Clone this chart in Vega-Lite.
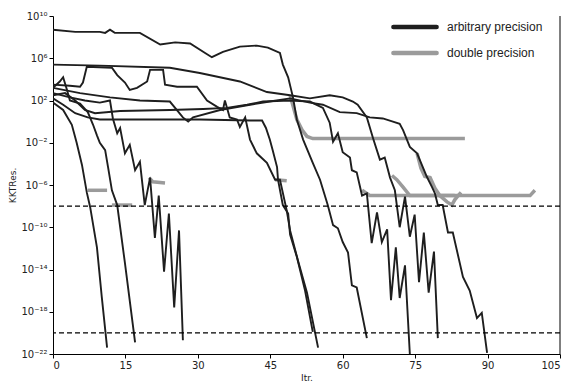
{
"$schema": "https://vega.github.io/schema/vega-lite/v6.json",
"width": 507, "height": 338,
"autosize": {"type": "none"},
"padding": {"left": 53, "top": 16, "right": 7, "bottom": 27},
"config": {
  "view": {"stroke": null},
  "axis": {"grid": false, "domainColor": "#000", "tickColor": "#000", "labelColor": "#222", "titleColor": "#222", "labelFont": "DejaVu Sans", "titleFont": "DejaVu Sans", "labelFontSize": 10, "titleFontSize": 9, "titleFontWeight": "normal", "tickSize": 4, "labelPadding": 2},
  "legend": {"orient": "none", "legendX": 346, "legendY": -5, "title": null, "symbolType": "M-1.6,0H1.6", "symbolSize": 729, "symbolStrokeWidth": 4.5, "labelFont": "Liberation Sans", "labelFontSize": 12, "labelColor": "#222", "rowPadding": 1, "labelOffset": 16, "padding": 0}
},
"datasets": {
"res": [
{"s":"S1","p":"arbitrary precision","x":0,"y":5.01e8},{"s":"S1","p":"arbitrary precision","x":4.6,"y":3.16e8},{"s":"S1","p":"arbitrary precision","x":9.7,"y":3.16e8},{"s":"S1","p":"arbitrary precision","x":10.8,"y":2.51e8},{"s":"S1","p":"arbitrary precision","x":11.8,"y":5.01e8},{"s":"S1","p":"arbitrary precision","x":12.8,"y":2.51e8},{"s":"S1","p":"arbitrary precision","x":18.0,"y":2.51e8},{"s":"S1","p":"arbitrary precision","x":22.2,"y":2e7},{"s":"S1","p":"arbitrary precision","x":25.3,"y":3.16e7},{"s":"S1","p":"arbitrary precision","x":28.4,"y":2.51e7},{"s":"S1","p":"arbitrary precision","x":31.5,"y":3.16e6},{"s":"S1","p":"arbitrary precision","x":32.9,"y":1.26e6},{"s":"S1","p":"arbitrary precision","x":35.2,"y":3.98e6},{"s":"S1","p":"arbitrary precision","x":38.7,"y":1.26e7},{"s":"S1","p":"arbitrary precision","x":42.2,"y":1.58e7},{"s":"S1","p":"arbitrary precision","x":44.5,"y":1e7},{"s":"S1","p":"arbitrary precision","x":47.0,"y":3.16e6},{"s":"S1","p":"arbitrary precision","x":47.6,"y":2.51e5},{"s":"S1","p":"arbitrary precision","x":48.7,"y":1.58e4},{"s":"S1","p":"arbitrary precision","x":49.7,"y":200},{"s":"S1","p":"arbitrary precision","x":50.5,"y":1.58},{"s":"S1","p":"arbitrary precision","x":51.8,"y":0.02},{"s":"S1","p":"arbitrary precision","x":53.8,"y":1.26e-4},{"s":"S1","p":"arbitrary precision","x":55.3,"y":3.16e-6},{"s":"S1","p":"arbitrary precision","x":56.9,"y":1.26e-8},{"s":"S1","p":"arbitrary precision","x":58.0,"y":1.58e-10},{"s":"S1","p":"arbitrary precision","x":59.0,"y":7.94e-11},{"s":"S1","p":"arbitrary precision","x":60.0,"y":3.98e-12},{"s":"S1","p":"arbitrary precision","x":61.1,"y":3.98e-13},{"s":"S1","p":"arbitrary precision","x":61.9,"y":3.16e-16},{"s":"S1","p":"arbitrary precision","x":62.9,"y":2e-16},{"s":"S1","p":"arbitrary precision","x":65.0,"y":3.16e-21},
{"s":"S2","p":"arbitrary precision","x":0,"y":2.51e5},{"s":"S2","p":"arbitrary precision","x":9.7,"y":2e5},{"s":"S2","p":"arbitrary precision","x":24.2,"y":1.26e5},{"s":"S2","p":"arbitrary precision","x":30.4,"y":3.98e4},{"s":"S2","p":"arbitrary precision","x":38.7,"y":6.31e3},{"s":"S2","p":"arbitrary precision","x":44.3,"y":631},{"s":"S2","p":"arbitrary precision","x":49.1,"y":316},{"s":"S2","p":"arbitrary precision","x":53.2,"y":158},{"s":"S2","p":"arbitrary precision","x":57.3,"y":316},{"s":"S2","p":"arbitrary precision","x":60.0,"y":200},{"s":"S2","p":"arbitrary precision","x":62.1,"y":79.4},{"s":"S2","p":"arbitrary precision","x":63.1,"y":39.8},{"s":"S2","p":"arbitrary precision","x":65.0,"y":2.51},{"s":"S2","p":"arbitrary precision","x":66.3,"y":2.51e-2},{"s":"S2","p":"arbitrary precision","x":67.7,"y":2.51e-4},{"s":"S2","p":"arbitrary precision","x":68.7,"y":3.98e-4},{"s":"S2","p":"arbitrary precision","x":69.8,"y":5.01e-6},{"s":"S2","p":"arbitrary precision","x":70.8,"y":3.16e-7},{"s":"S2","p":"arbitrary precision","x":71.8,"y":1e-10},{"s":"S2","p":"arbitrary precision","x":72.9,"y":7.94e-8},{"s":"S2","p":"arbitrary precision","x":73.9,"y":1.26e-11},{"s":"S2","p":"arbitrary precision","x":74.9,"y":1.58e-9},{"s":"S2","p":"arbitrary precision","x":75.8,"y":6.31e-16},{"s":"S2","p":"arbitrary precision","x":76.8,"y":3.16e-11},{"s":"S2","p":"arbitrary precision","x":77.8,"y":6.31e-17},{"s":"S2","p":"arbitrary precision","x":78.9,"y":5.01e-13},{"s":"S2","p":"arbitrary precision","x":79.7,"y":3.16e-21},
{"s":"M","p":"arbitrary precision","x":0,"y":316},{"s":"M","p":"arbitrary precision","x":2.5,"y":501},{"s":"M","p":"arbitrary precision","x":4.6,"y":100},{"s":"M","p":"arbitrary precision","x":6.6,"y":12.6},{"s":"M","p":"arbitrary precision","x":8.7,"y":6.31},{"s":"M","p":"arbitrary precision","x":13.9,"y":10},{"s":"M","p":"arbitrary precision","x":24.2,"y":12.6},{"s":"M","p":"arbitrary precision","x":31.1,"y":15.8},{"s":"M","p":"arbitrary precision","x":36.0,"y":20},{"s":"M","p":"arbitrary precision","x":40.2,"y":39.8},{"s":"M","p":"arbitrary precision","x":43.5,"y":79.4},{"s":"M","p":"arbitrary precision","x":49.1,"y":100},{"s":"M","p":"arbitrary precision","x":53.2,"y":79.4},{"s":"M","p":"arbitrary precision","x":55.9,"y":20},{"s":"M","p":"arbitrary precision","x":57.3,"y":0.794},{"s":"M","p":"arbitrary precision","x":58.0,"y":1.26e-2},{"s":"M","p":"arbitrary precision","x":59.0,"y":7.94e-2},{"s":"M","p":"arbitrary precision","x":60.0,"y":1.26e-3},{"s":"M","p":"arbitrary precision","x":61.5,"y":3.98e-4},{"s":"M","p":"arbitrary precision","x":61.9,"y":2.51e-5},{"s":"M","p":"arbitrary precision","x":62.9,"y":1.58e-5},{"s":"M","p":"arbitrary precision","x":64.0,"y":1e-7},{"s":"M","p":"arbitrary precision","x":65.0,"y":1.58e-7},{"s":"M","p":"arbitrary precision","x":66.0,"y":3.16e-12},{"s":"M","p":"arbitrary precision","x":67.1,"y":2.51e-9},{"s":"M","p":"arbitrary precision","x":68.1,"y":3.98e-12},{"s":"M","p":"arbitrary precision","x":69.2,"y":6.31e-11},{"s":"M","p":"arbitrary precision","x":70.0,"y":1.26e-17},{"s":"M","p":"arbitrary precision","x":71.0,"y":1.26e-12},{"s":"M","p":"arbitrary precision","x":71.8,"y":2e-17},{"s":"M","p":"arbitrary precision","x":72.9,"y":2.51e-14},{"s":"M","p":"arbitrary precision","x":73.9,"y":1e-22},
{"s":"U","p":"arbitrary precision","x":0,"y":1.58e3},{"s":"U","p":"arbitrary precision","x":5.6,"y":501},{"s":"U","p":"arbitrary precision","x":11.8,"y":200},{"s":"U","p":"arbitrary precision","x":18.0,"y":100},{"s":"U","p":"arbitrary precision","x":24.2,"y":79.4},{"s":"U","p":"arbitrary precision","x":26.9,"y":2.51},{"s":"U","p":"arbitrary precision","x":28.0,"y":1},{"s":"U","p":"arbitrary precision","x":29.0,"y":2.51},{"s":"U","p":"arbitrary precision","x":34.6,"y":12.6},{"s":"U","p":"arbitrary precision","x":40.8,"y":39.8},{"s":"U","p":"arbitrary precision","x":44.9,"y":79.4},{"s":"U","p":"arbitrary precision","x":49.1,"y":158},{"s":"U","p":"arbitrary precision","x":53.2,"y":63.1},{"s":"U","p":"arbitrary precision","x":55.9,"y":39.8},{"s":"U","p":"arbitrary precision","x":59.4,"y":7.94},{"s":"U","p":"arbitrary precision","x":62.9,"y":6.31},{"s":"U","p":"arbitrary precision","x":65.6,"y":2.51},{"s":"U","p":"arbitrary precision","x":68.3,"y":2},{"s":"U","p":"arbitrary precision","x":70.4,"y":1},{"s":"U","p":"arbitrary precision","x":71.8,"y":0.631},{"s":"U","p":"arbitrary precision","x":72.5,"y":0.158},{"s":"U","p":"arbitrary precision","x":73.9,"y":3.98e-3},{"s":"U","p":"arbitrary precision","x":75.4,"y":1e-3},{"s":"U","p":"arbitrary precision","x":77.4,"y":6.31e-6},{"s":"U","p":"arbitrary precision","x":78.5,"y":6.31e-7},{"s":"U","p":"arbitrary precision","x":79.1,"y":1.58e-7},{"s":"U","p":"arbitrary precision","x":79.7,"y":1.26e-8},{"s":"U","p":"arbitrary precision","x":80.7,"y":1.26e-8},{"s":"U","p":"arbitrary precision","x":81.8,"y":3.16e-11},{"s":"U","p":"arbitrary precision","x":82.8,"y":3.16e-11},{"s":"U","p":"arbitrary precision","x":84.9,"y":2e-15},{"s":"U","p":"arbitrary precision","x":86.3,"y":1e-16},{"s":"U","p":"arbitrary precision","x":87.8,"y":2.51e-19},{"s":"U","p":"arbitrary precision","x":88.8,"y":7.94e-19},{"s":"U","p":"arbitrary precision","x":89.9,"y":1.26e-22},
{"s":"J","p":"arbitrary precision","x":0,"y":3.16e3},{"s":"J","p":"arbitrary precision","x":3.5,"y":2.51e3},{"s":"J","p":"arbitrary precision","x":5.6,"y":2e3},{"s":"J","p":"arbitrary precision","x":6.2,"y":5.01e3},{"s":"J","p":"arbitrary precision","x":7.0,"y":1.58e5},{"s":"J","p":"arbitrary precision","x":12.2,"y":1.26e5},{"s":"J","p":"arbitrary precision","x":13.3,"y":2.51e4},{"s":"J","p":"arbitrary precision","x":14.9,"y":5.01e3},{"s":"J","p":"arbitrary precision","x":15.9,"y":1e3},{"s":"J","p":"arbitrary precision","x":17.4,"y":1.58e3},{"s":"J","p":"arbitrary precision","x":19.5,"y":6.31e3},{"s":"J","p":"arbitrary precision","x":20.1,"y":7.94e4},{"s":"J","p":"arbitrary precision","x":22.8,"y":7.94e4},{"s":"J","p":"arbitrary precision","x":23.2,"y":3.16e3},{"s":"J","p":"arbitrary precision","x":25.7,"y":2e3},{"s":"J","p":"arbitrary precision","x":28.4,"y":2e3},{"s":"J","p":"arbitrary precision","x":29.8,"y":2e3},{"s":"J","p":"arbitrary precision","x":31.9,"y":100},{"s":"J","p":"arbitrary precision","x":34.0,"y":25.1},{"s":"J","p":"arbitrary precision","x":35.2,"y":12.6},{"s":"J","p":"arbitrary precision","x":35.6,"y":100},{"s":"J","p":"arbitrary precision","x":36.6,"y":2.51},{"s":"J","p":"arbitrary precision","x":38.1,"y":1.58},{"s":"J","p":"arbitrary precision","x":38.7,"y":0.316},{"s":"J","p":"arbitrary precision","x":39.8,"y":2.51},{"s":"J","p":"arbitrary precision","x":40.8,"y":0.02},{"s":"J","p":"arbitrary precision","x":42.2,"y":1e-3},{"s":"J","p":"arbitrary precision","x":44.3,"y":1.26e-4},{"s":"J","p":"arbitrary precision","x":46.0,"y":3.16e-6},{"s":"J","p":"arbitrary precision","x":47.0,"y":3.16e-6},{"s":"J","p":"arbitrary precision","x":48.4,"y":3.98e-9},{"s":"J","p":"arbitrary precision","x":49.1,"y":5.01e-11},{"s":"J","p":"arbitrary precision","x":50.7,"y":7.94e-14},{"s":"J","p":"arbitrary precision","x":52.6,"y":6.31e-17},{"s":"J","p":"arbitrary precision","x":54.9,"y":3.98e-22},
{"s":"F","p":"arbitrary precision","x":0,"y":158},{"s":"F","p":"arbitrary precision","x":2.1,"y":39.8},{"s":"F","p":"arbitrary precision","x":4.6,"y":6.31},{"s":"F","p":"arbitrary precision","x":7.2,"y":2.51},{"s":"F","p":"arbitrary precision","x":9.7,"y":1.58},{"s":"F","p":"arbitrary precision","x":20.1,"y":1.58},{"s":"F","p":"arbitrary precision","x":30.4,"y":1.58},{"s":"F","p":"arbitrary precision","x":40.8,"y":1.26},{"s":"F","p":"arbitrary precision","x":43.3,"y":1.26},{"s":"F","p":"arbitrary precision","x":44.1,"y":0.251},{"s":"F","p":"arbitrary precision","x":44.9,"y":0.02},{"s":"F","p":"arbitrary precision","x":45.5,"y":2e-3},{"s":"F","p":"arbitrary precision","x":46.4,"y":5.01e-5},{"s":"F","p":"arbitrary precision","x":46.6,"y":3.16e-6},{"s":"F","p":"arbitrary precision","x":47.6,"y":1.26e-8},{"s":"F","p":"arbitrary precision","x":48.7,"y":2e-9},{"s":"F","p":"arbitrary precision","x":49.1,"y":2e-11},{"s":"F","p":"arbitrary precision","x":50.5,"y":1.58e-13},{"s":"F","p":"arbitrary precision","x":52.2,"y":1e-16},{"s":"F","p":"arbitrary precision","x":53.8,"y":1.26e-20},
{"s":"L1","p":"arbitrary precision","x":0,"y":63.1},{"s":"L1","p":"arbitrary precision","x":2.1,"y":12.6},{"s":"L1","p":"arbitrary precision","x":3.9,"y":0.501},{"s":"L1","p":"arbitrary precision","x":4.9,"y":1e-2},{"s":"L1","p":"arbitrary precision","x":6.0,"y":7.94e-5},{"s":"L1","p":"arbitrary precision","x":7.0,"y":2e-7},{"s":"L1","p":"arbitrary precision","x":7.7,"y":7.94e-9},{"s":"L1","p":"arbitrary precision","x":9.1,"y":1.26e-12},{"s":"L1","p":"arbitrary precision","x":10.1,"y":2.51e-17},{"s":"L1","p":"arbitrary precision","x":11.2,"y":3.98e-22},
{"s":"L2","p":"arbitrary precision","x":0,"y":1.58e3},{"s":"L2","p":"arbitrary precision","x":1.4,"y":6.31e3},{"s":"L2","p":"arbitrary precision","x":2.1,"y":1.58e4},{"s":"L2","p":"arbitrary precision","x":2.9,"y":1e3},{"s":"L2","p":"arbitrary precision","x":3.5,"y":100},{"s":"L2","p":"arbitrary precision","x":5.6,"y":50.1},{"s":"L2","p":"arbitrary precision","x":7.2,"y":7.94},{"s":"L2","p":"arbitrary precision","x":8.3,"y":0.501},{"s":"L2","p":"arbitrary precision","x":9.1,"y":5.01e-2},{"s":"L2","p":"arbitrary precision","x":9.7,"y":1e-2},{"s":"L2","p":"arbitrary precision","x":10.8,"y":2e-3},{"s":"L2","p":"arbitrary precision","x":11.4,"y":5.01e-5},{"s":"L2","p":"arbitrary precision","x":12.2,"y":3.16e-7},{"s":"L2","p":"arbitrary precision","x":13.3,"y":1.26e-8},{"s":"L2","p":"arbitrary precision","x":14.9,"y":3.98e-14},{"s":"L2","p":"arbitrary precision","x":17.0,"y":1.26e-21},
{"s":"T1","p":"arbitrary precision","x":0,"y":501},{"s":"T1","p":"arbitrary precision","x":3.5,"y":200},{"s":"T1","p":"arbitrary precision","x":6.6,"y":100},{"s":"T1","p":"arbitrary precision","x":9.7,"y":63.1},{"s":"T1","p":"arbitrary precision","x":11.8,"y":100},{"s":"T1","p":"arbitrary precision","x":12.4,"y":2},{"s":"T1","p":"arbitrary precision","x":13.3,"y":7.94e-2},{"s":"T1","p":"arbitrary precision","x":13.9,"y":0.251},{"s":"T1","p":"arbitrary precision","x":14.9,"y":1e-3},{"s":"T1","p":"arbitrary precision","x":15.9,"y":6.31e-3},{"s":"T1","p":"arbitrary precision","x":17.0,"y":2.51e-5},{"s":"T1","p":"arbitrary precision","x":18.0,"y":1.58e-4},{"s":"T1","p":"arbitrary precision","x":19.0,"y":1.26e-8},{"s":"T1","p":"arbitrary precision","x":20.1,"y":5.01e-6},{"s":"T1","p":"arbitrary precision","x":21.1,"y":1e-11},{"s":"T1","p":"arbitrary precision","x":21.9,"y":1e-7},{"s":"T1","p":"arbitrary precision","x":23.0,"y":6.31e-15},{"s":"T1","p":"arbitrary precision","x":24.0,"y":2e-9},{"s":"T1","p":"arbitrary precision","x":25.1,"y":2.51e-18},{"s":"T1","p":"arbitrary precision","x":26.1,"y":5.01e-11},{"s":"T1","p":"arbitrary precision","x":26.9,"y":2e-21},
{"s":"G1","p":"double precision","x":7.2,"y":3.16e-7},{"s":"G1","p":"double precision","x":11.2,"y":3.16e-7},
{"s":"G2","p":"double precision","x":12.2,"y":1.26e-8},{"s":"G2","p":"double precision","x":16.4,"y":1.26e-8},
{"s":"G3","p":"double precision","x":19.9,"y":5.01e-6},{"s":"G3","p":"double precision","x":20.7,"y":2e-6},{"s":"G3","p":"double precision","x":23.2,"y":1.58e-6},
{"s":"GP","p":"double precision","x":46.0,"y":3.16e-6},{"s":"GP","p":"double precision","x":48.4,"y":2.51e-6},
{"s":"GB","p":"double precision","x":49.1,"y":316},{"s":"GB","p":"double precision","x":50.5,"y":1.58},{"s":"GB","p":"double precision","x":51.6,"y":0.158},{"s":"GB","p":"double precision","x":52.6,"y":3.98e-2},{"s":"GB","p":"double precision","x":53.8,"y":2.51e-2},{"s":"GB","p":"double precision","x":85.3,"y":2.51e-2},
{"s":"GC","p":"double precision","x":64.0,"y":3.16e-7},{"s":"GC","p":"double precision","x":65.6,"y":1e-7},{"s":"GC","p":"double precision","x":83.2,"y":1e-7},
{"s":"GD","p":"double precision","x":70.2,"y":7.94e-6},{"s":"GD","p":"double precision","x":71.2,"y":3.16e-6},{"s":"GD","p":"double precision","x":72.5,"y":6.31e-7},{"s":"GD","p":"double precision","x":73.9,"y":1e-7},{"s":"GD","p":"double precision","x":98.8,"y":1e-7},{"s":"GD","p":"double precision","x":99.8,"y":3.16e-7},
{"s":"GE","p":"double precision","x":75.4,"y":1e-3},{"s":"GE","p":"double precision","x":76.2,"y":3.98e-5},{"s":"GE","p":"double precision","x":77.0,"y":6.31e-6},{"s":"GE","p":"double precision","x":78.1,"y":5.01e-6},{"s":"GE","p":"double precision","x":79.1,"y":5.01e-7},{"s":"GE","p":"double precision","x":80.1,"y":1e-7},{"s":"GE","p":"double precision","x":81.6,"y":2.51e-8},{"s":"GE","p":"double precision","x":82.6,"y":1.26e-8},{"s":"GE","p":"double precision","x":83.2,"y":3.98e-8},{"s":"GE","p":"double precision","x":83.9,"y":1e-7},{"s":"GE","p":"double precision","x":84.5,"y":2e-7}
],
"thr": [{"y": 1e-8}, {"y": 1e-20}]
},
"layer": [
{
 "data": {"name": "res"},
 "transform": [{"filter": "datum.p == 'double precision'"}],
 "mark": {"type": "line", "strokeWidth": 3.5, "clip": true},
 "encoding": {
  "x": {"field": "x", "type": "quantitative", "scale": {"domain": [0, 105], "nice": false, "zero": false},
        "axis": {"values": [0, 15, 30, 45, 60, 75, 90, 105], "format": "d", "title": "Itr.", "titlePadding": 3}},
  "y": {"field": "y", "type": "quantitative", "scale": {"type": "log", "domain": [1e-22, 1e10], "nice": false},
        "axis": {"values": [1e10, 1e6, 100, 0.01, 1e-6, 1e-10, 1e-14, 1e-18, 1e-22], "title": "KKTRes.", "titlePadding": 3,
                 "labelExpr": "'10' + replace(replace(replace(replace(replace(replace(replace(toString(round(log(datum.value)/LN10)), '-', '⁻'), regexp('0','g'), '⁰'), regexp('1','g'), '¹'), regexp('2','g'), '²'), regexp('4','g'), '⁴'), regexp('6','g'), '⁶'), regexp('8','g'), '⁸')"}},
  "detail": {"field": "s"},
  "color": {"field": "p", "type": "nominal", "scale": {"domain": ["arbitrary precision", "double precision"], "range": ["#1e1e1e", "#9b9b9b"]},
            "legend": {"encode": {"symbols": {"update": {"strokeCap": {"value": "round"}}}}}}
 }
},
{
 "data": {"name": "res"},
 "transform": [{"filter": "datum.p == 'arbitrary precision'"}],
 "mark": {"type": "line", "strokeWidth": 1.9, "clip": true},
 "encoding": {
  "x": {"field": "x", "type": "quantitative"},
  "y": {"field": "y", "type": "quantitative"},
  "detail": {"field": "s"},
  "color": {"field": "p", "type": "nominal"}
 }
},
{
 "data": {"name": "thr"},
 "mark": {"type": "rule", "color": "#000", "strokeWidth": 1.1, "strokeDash": [5, 3]},
 "encoding": {"y": {"field": "y", "type": "quantitative"}}
},
{
 "data": {"values": [{}]},
 "mark": {"type": "rule", "color": "#000", "strokeWidth": 1},
 "encoding": {"x": {"datum": 105}}
}
]
}
